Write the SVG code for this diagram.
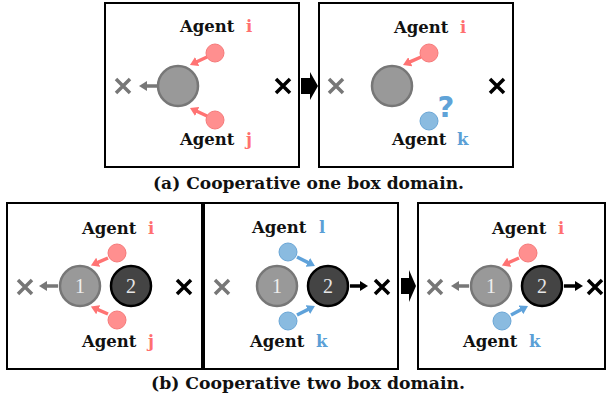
<svg xmlns="http://www.w3.org/2000/svg" width="608" height="402" viewBox="0 0 608 402">
<defs>
<style>
.frame{fill:#fff;stroke:#000;stroke-width:2}
.lbl{font-family:"DejaVu Serif","Liberation Serif",serif;font-weight:bold;font-size:16.5px;fill:#111}
.cap{font-family:"DejaVu Serif","Liberation Serif",serif;font-weight:bold;font-size:16.5px;fill:#111}
.pk{fill:#ff7070}
.bl{fill:#5b9fd6}
.agp{fill:#ff8f8f;stroke:#f57a7a;stroke-width:1}
.agb{fill:#8abbe0;stroke:#6aa6d6;stroke-width:1}
.box1{fill:#999;stroke:#777;stroke-width:2.5}
.box2{fill:#444;stroke:#000;stroke-width:2.5}
.num{font-family:"Liberation Serif",serif;font-size:20px;text-anchor:middle}
.xg{stroke:#777;stroke-width:3.5;fill:none}
.xb{stroke:#000;stroke-width:3.5;fill:none}
.ap{stroke:#ff7373;stroke-width:3.5;fill:none;marker-end:url(#hp)}
.ab{stroke:#5fa2da;stroke-width:3.5;fill:none;marker-end:url(#hb)}
.ag{stroke:#777;stroke-width:3.5;fill:none;marker-end:url(#hg)}
.ak{stroke:#000;stroke-width:3.5;fill:none;marker-end:url(#hk)}
.big{fill:#000}
.q{font-family:"DejaVu Sans",sans-serif;font-weight:bold;font-size:29px;fill:#5fa3d8;text-anchor:middle}
</style>
<marker id="hp" markerUnits="userSpaceOnUse" markerWidth="8" markerHeight="10" viewBox="0 0 8 10" refX="1" refY="5" orient="auto"><path d="M0,0 L8,5 L0,10 z" fill="#ff7373"/></marker>
<marker id="hb" markerUnits="userSpaceOnUse" markerWidth="8" markerHeight="10" viewBox="0 0 8 10" refX="1" refY="5" orient="auto"><path d="M0,0 L8,5 L0,10 z" fill="#5fa2da"/></marker>
<marker id="hg" markerUnits="userSpaceOnUse" markerWidth="8" markerHeight="10" viewBox="0 0 8 10" refX="1" refY="5" orient="auto"><path d="M0,0 L8,5 L0,10 z" fill="#777"/></marker>
<marker id="hk" markerUnits="userSpaceOnUse" markerWidth="8" markerHeight="10" viewBox="0 0 8 10" refX="1" refY="5" orient="auto"><path d="M0,0 L8,5 L0,10 z" fill="#000"/></marker>
<path id="xm" d="M-7,-7 L7,7 M7,-7 L-7,7"/>
</defs>

<!-- frames -->
<g id="frames">
<rect class="frame" x="105" y="3" width="194" height="164"/>
<rect class="frame" x="319" y="3" width="194" height="164"/>
<rect class="frame" x="7" y="203" width="195" height="166"/>
<rect class="frame" x="204" y="203" width="194" height="166"/>
<rect class="frame" x="418" y="203" width="187" height="166"/>
</g>

<!-- transition arrows -->
<g id="transitions">
<path class="big" d="M301,78 H310 V72 L318,86 L310,100 V94 H301 Z"/>
<path class="big" d="M401,278 H409 V270 L416,286 L409,302 V294 H401 Z"/>
</g>

<!-- panel (a) left -->
<g id="a1-box"><circle class="box1" cx="178" cy="86" r="20"/></g>
<g id="a1-goal-left"><use href="#xm" class="xg" x="123" y="86"/></g>
<g id="a1-goal-right"><use href="#xm" class="xb" x="283" y="86"/></g>
<g id="a1-agent-i"><circle class="agp" cx="215" cy="53" r="9"/><text class="lbl" x="180" y="32">Agent <tspan class="pk" x="246">i</tspan></text></g>
<g id="a1-agent-j"><circle class="agp" cx="215" cy="120" r="9"/><text class="lbl" x="180" y="145">Agent <tspan class="pk" x="246">j</tspan></text></g>

<!-- panel (a) right -->
<g id="a2-box"><circle class="box1" cx="392" cy="86" r="20"/></g>
<g id="a2-goal-left"><use href="#xm" class="xg" x="336" y="86"/></g>
<g id="a2-goal-right"><use href="#xm" class="xb" x="497" y="86"/></g>
<g id="a2-agent-i"><circle class="agp" cx="429" cy="53" r="9"/><text class="lbl" x="394" y="33">Agent <tspan class="pk" x="460">i</tspan></text></g>
<g id="a2-agent-k"><circle class="agb" cx="429" cy="121" r="9"/><text class="q" x="446" y="117">?</text><text class="lbl" x="392" y="145">Agent <tspan class="bl" x="457">k</tspan></text></g>

<!-- panel (b) 1 -->
<g id="b1-box1"><circle class="box1" cx="80" cy="286" r="20"/><text class="num" x="80" y="293" fill="#eee">1</text></g>
<g id="b1-box2"><circle class="box2" cx="131" cy="286" r="20"/><text class="num" x="131" y="293" fill="#e6e6e6">2</text></g>
<g id="b1-goal-left"><use href="#xm" class="xg" x="25" y="287"/></g>
<g id="b1-goal-right"><use href="#xm" class="xb" x="184" y="287"/></g>
<g id="b1-agent-i"><circle class="agp" cx="117" cy="253" r="9"/><text class="lbl" x="82" y="234">Agent <tspan class="pk" x="148">i</tspan></text></g>
<g id="b1-agent-j"><circle class="agp" cx="117" cy="320" r="9"/><text class="lbl" x="82" y="347">Agent <tspan class="pk" x="148">j</tspan></text></g>

<!-- panel (b) 2 -->
<g id="b2-box1"><circle class="box1" cx="277" cy="286" r="20"/><text class="num" x="277" y="293" fill="#eee">1</text></g>
<g id="b2-box2"><circle class="box2" cx="328" cy="286" r="20"/><text class="num" x="328" y="293" fill="#e6e6e6">2</text></g>
<g id="b2-goal-left"><use href="#xm" class="xg" x="222" y="287"/></g>
<g id="b2-goal-right"><use href="#xm" class="xb" x="382" y="287"/></g>
<g id="b2-agent-l"><circle class="agb" cx="288" cy="252" r="9"/><text class="lbl" x="252" y="233">Agent <tspan class="bl" x="319">l</tspan></text></g>
<g id="b2-agent-k"><circle class="agb" cx="288" cy="321" r="9"/><text class="lbl" x="250" y="347">Agent <tspan class="bl" x="316">k</tspan></text></g>

<!-- panel (b) 3 -->
<g id="b3-box1"><circle class="box1" cx="491" cy="286" r="20"/><text class="num" x="491" y="293" fill="#eee">1</text></g>
<g id="b3-box2"><circle class="box2" cx="542" cy="286" r="20"/><text class="num" x="542" y="293" fill="#e6e6e6">2</text></g>
<g id="b3-goal-left"><use href="#xm" class="xg" x="435" y="287"/></g>
<g id="b3-goal-right"><use href="#xm" class="xb" x="595" y="287"/></g>
<g id="b3-agent-i"><circle class="agp" cx="528" cy="253" r="9"/><text class="lbl" x="492" y="234">Agent <tspan class="pk" x="558">i</tspan></text></g>
<g id="b3-agent-k"><circle class="agb" cx="502" cy="321" r="9"/><text class="lbl" x="463" y="347">Agent <tspan class="bl" x="529">k</tspan></text></g>

<!-- connectors -->
<g id="connectors">
<path class="ap" d="M207,57 L196.3,62"/>
<path class="ap" d="M207,116 L196.3,111"/>
<path class="ag" d="M157,86 L146,86"/>
<path class="ap" d="M421,57 L409.4,62.2"/>
<path class="ap" d="M108,258 L97.3,262.7"/>
<path class="ap" d="M108,314 L97.3,309.3"/>
<path class="ag" d="M58,286 L46,286"/>
<path class="ab" d="M297,257 L308.7,262.9"/>
<path class="ab" d="M297,315 L308.7,309.1"/>
<path class="ak" d="M350,286 L361,286"/>
<path class="ap" d="M519,258 L508.3,262.7"/>
<path class="ab" d="M511,315 L521.8,309.3"/>
<path class="ag" d="M469,286 L458,286"/>
<path class="ak" d="M564,286 L576,286"/>
</g>

<!-- captions -->
<g id="captions">
<text class="cap" x="153" y="189" textLength="311" lengthAdjust="spacingAndGlyphs">(a) Cooperative one box domain.</text>
<text class="cap" x="151" y="389" textLength="314" lengthAdjust="spacingAndGlyphs">(b) Cooperative two box domain.</text>
</g>
</svg>
